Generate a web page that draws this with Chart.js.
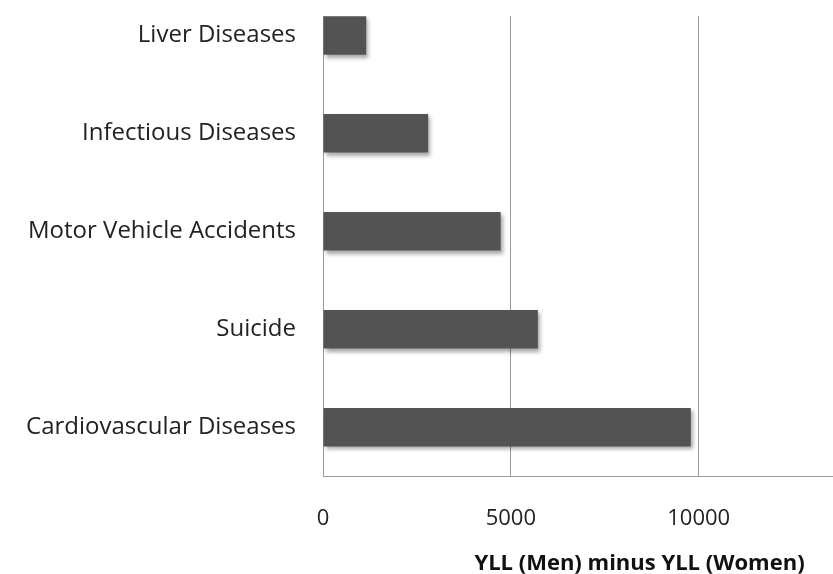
<!DOCTYPE html>
<html>
<head>
<meta charset="utf-8">
<script src="https://cdn.jsdelivr.net/npm/chart.js@4/dist/chart.umd.min.js"></script>
<style>
  html, body { margin: 0; padding: 0; background: #fff; overflow: hidden; width: 833px; height: 574px; }
  #wrap { position: relative; width: 956px; height: 632px; margin-top: -55px; }
  canvas { display: block; }
</style>
</head>
<body>
<div id="wrap"><canvas id="c" width="956" height="632"></canvas></div>
<script>
const categories = ["Liver Diseases", "Infectious Diseases", "Motor Vehicle Accidents", "Suicide", "Cardiovascular Diseases"];
const values = [1150, 2800, 4730, 5720, 9790];
const xTickValues = [0, 5000, 10000, 15000];
const xAxisTitle = "YLL (Men) minus YLL (Women)";

const shadowPlugin = {
  id: 'barShadow',
  beforeDatasetsDraw(chart) {
    const ctx = chart.ctx;
    ctx.save();
    ctx.shadowColor = 'rgba(0,0,0,0.35)';
    ctx.shadowBlur = 4;
    ctx.shadowOffsetX = 2;
    ctx.shadowOffsetY = 3;
  },
  afterDatasetsDraw(chart) {
    chart.ctx.restore();
  }
};

const cropPlugin = {
  id: 'topCrop',
  afterDraw(chart) {
    const ctx = chart.ctx;
    const left = chart.chartArea.left - 2;
    ctx.save();
    ctx.fillStyle = '#ffffff';
    ctx.fillRect(left, 0, chart.width - left, 71);
    ctx.restore();
  }
};

Chart.defaults.font.family = '"Open Sans", Lato, sans-serif';

new Chart(document.getElementById('c'), {
  type: 'bar',
  data: {
    labels: categories,
    datasets: [{
      data: values,
      backgroundColor: '#535353',
      borderWidth: 0,
      categoryPercentage: 1.0,
      barPercentage: 0.393
    }]
  },
  options: {
    indexAxis: 'y',
    responsive: false,
    animation: false,
    events: [],
    layout: { padding: { top: 18, left: 0, right: 0, bottom: 0 } },
    plugins: { legend: { display: false }, tooltip: { enabled: false } },
    scales: {
      x: {
        min: 0,
        max: 16850,
        afterBuildTicks: (scale) => { scale.ticks = xTickValues.map(v => ({ value: v })); },
        ticks: {
          color: '#222',
          font: { size: 22 },
          padding: 29,
          maxRotation: 0,
          autoSkip: false,
          callback: (v) => String(v)
        },
        grid: { color: '#999999', lineWidth: 1, drawTicks: false },
        border: { display: true, color: '#999999', width: 1 },
        title: {
          display: true,
          text: xAxisTitle,
          color: '#111',
          font: { size: 22, weight: 'bold' },
          padding: { top: -10, bottom: 0 }
        }
      },
      y: {
        afterFit: (scale) => { scale.width = 323; },
        ticks: {
          color: '#222',
          font: { size: 24 },
          padding: 27
        },
        grid: { display: false, drawTicks: false },
        border: { display: true, color: '#999999', width: 1 }
      }
    }
  },
  plugins: [shadowPlugin, cropPlugin]
});
</script>
</body>
</html>
